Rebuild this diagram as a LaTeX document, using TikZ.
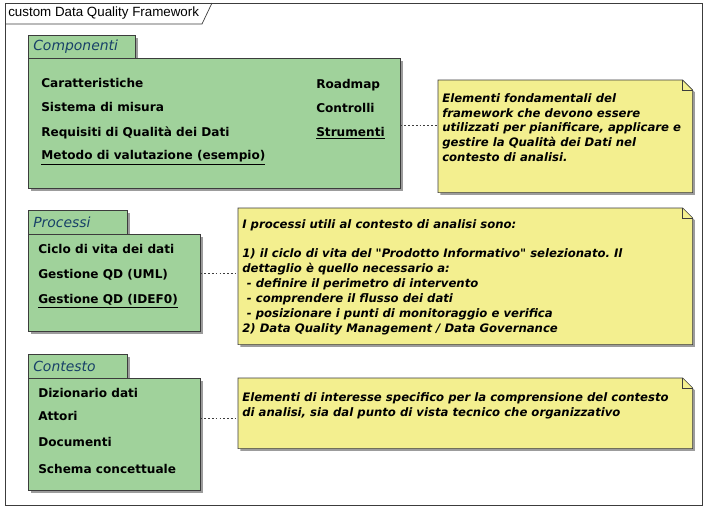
\documentclass[tikz,border=0pt]{standalone}
\usepackage{fontspec}
\setmainfont{DejaVu Sans}
\newfontfamily\titlefont{Liberation Sans}
\newfontfamily\notefont{DejaVu Sans}
\usetikzlibrary{shadows}
\frenchspacing
\definecolor{pkggreen}{RGB}{160,210,155}
\definecolor{noteyellow}{RGB}{243,239,143}
\definecolor{pkgblue}{RGB}{24,64,104}
\definecolor{edgegray}{RGB}{60,60,60}
\tikzset{
  frame/.style={draw=edgegray,line width=0.5pt},
  titletxt/.style={font=\titlefont\fontsize{9.5}{11}\selectfont,anchor=west,inner sep=0pt},
  boxshadow/.style={drop shadow={shadow xshift=1.6pt,shadow yshift=-1.6pt,opacity=.55,fill=black!70}},
  pkgtab/.style={draw=edgegray,fill=pkggreen,anchor=north west,inner sep=0pt,boxshadow},
  pkgbody/.style={draw=edgegray,fill=pkggreen,anchor=north west,inner sep=0pt,boxshadow},
  pkgname/.style={font=\fontsize{9.9}{11}\selectfont\itshape,text=pkgblue,anchor=west,inner sep=0pt},
  item/.style={font=\fontsize{8.6}{10}\selectfont\bfseries,anchor=west,inner sep=0pt},
  noteplace/.style={anchor=north west,inner sep=0pt},
  notebox/.style={draw=edgegray,fill=noteyellow,boxshadow},
  notetext/.style={font=\notefont\fontsize{8.3}{10.6}\selectfont\bfseries\itshape,anchor=north west,inner sep=0pt,align=left},
  notelink/.style={draw=edgegray,dash pattern=on 1.2pt off 1.5pt},
}
\newcommand{\dogear}[1]{%
  \filldraw[notebox] (#1.north west) -- ([xshift=-0.25cm]#1.north east)
    -- ([yshift=-0.25cm]#1.north east) -- (#1.south east) -- (#1.south west) -- cycle;
  \draw[edgegray] ([xshift=-0.25cm]#1.north east) -- ([xshift=-0.25cm,yshift=-0.25cm]#1.north east)
    -- ([yshift=-0.25cm]#1.north east);
}

\begin{document}
\begin{tikzpicture}[x=0.025cm,y=-0.025cm]
  \useasboundingbox (0,0) rectangle (706,508);
  % outer frame
  \fill[white] (0,0) rectangle (706,508);
  \draw[frame] (5,3) rectangle (702,505);
  \draw[frame] (5,24) -- (202,24) -- (212,3);
  \node[titletxt] (title) at (8,13.5) {custom Data Quality Framework};

  % Componenti
  \node[pkgtab,minimum width=2.675cm,minimum height=0.575cm] (comptab) at (28,35) {};
  \node[pkgbody,minimum width=9.3cm,minimum height=3.25cm] (comp) at (28,58) {};
  \node[pkgname] (compname) at (33,46.5) {Componenti};
  \foreach \n/\y/\t in {1/83/Caratteristiche,2/107/Sistema di misura,
      3/133/Requisiti di Qualità dei Dati,4/158/\underline{Metodo di valutazione (esempio)}}
    \node[item] (comp\n) at (41,\y) {\t};
  \foreach \n/\y/\t in {5/85/Roadmap,6/108/Controlli,7/133/\underline{Strumenti}}
    \node[item] (comp\n) at (316,\y) {\t};

  % Processi
  \node[pkgtab,minimum width=2.475cm,minimum height=0.6cm] (proctab) at (28,210) {};
  \node[pkgbody,minimum width=4.3cm,minimum height=2.425cm] (proc) at (28,234) {};
  \node[pkgname] (procname) at (33,222) {Processi};
  \foreach \n/\y/\t in {1/249/Ciclo di vita dei dati,2/275/Gestione QD (UML),
      3/301/\underline{Gestione QD (IDEF0)}}
    \node[item] (proc\n) at (38,\y) {\t};

  % Contesto
  \node[pkgtab,minimum width=2.475cm,minimum height=0.6cm] (conttab) at (28,354) {};
  \node[pkgbody,minimum width=4.3cm,minimum height=2.8cm] (cont) at (28,378) {};
  \node[pkgname] (contname) at (33,366) {Contesto};
  \foreach \n/\y/\t in {1/393/Dizionario dati,2/416/Attori,3/442/Documenti,
      4/469/Schema concettuale}
    \node[item] (cont\n) at (38,\y) {\t};

  % note
  \node[noteplace,minimum width=6.35cm,minimum height=2.8cm] (note1) at (438,80) {};
  \node[noteplace,minimum width=11.35cm,minimum height=3.4cm] (note2) at (238,208) {};
  \node[noteplace,minimum width=11.35cm,minimum height=1.75cm] (note3) at (238,378) {};
  \dogear{note1}
  \dogear{note2}
  \dogear{note3}

  \node[notetext] (note1txt) at (442,93) {Elementi fondamentali del\\
    framework che devono essere\\
    utilizzati per pianificare, applicare e\\
    gestire la Qualità dei Dati nel\\
    contesto di analisi.};
  \node[notetext] (note2txt) at (242,219) {I processi utili al contesto di analisi sono:\\[10.6pt]
    1) il ciclo di vita del "Prodotto Informativo" selezionato. Il\\
    dettaglio è quello necessario a:\\
    \hspace*{0.4em}- definire il perimetro di intervento\\
    \hspace*{0.4em}- comprendere il flusso dei dati\\
    \hspace*{0.4em}- posizionare i punti di monitoraggio e verifica\\
    2) Data Quality Management / Data Governance};
  \node[notetext] (note3txt) at (242,392) {Elementi di interesse specifico per la comprensione del contesto\\
    di analisi, sia dal punto di vista tecnico che organizzativo};

  % collegamenti
  \coordinate (l1) at (comp.east |- 0,125);
  \coordinate (l2) at (proc.east |- 0,273);
  \coordinate (l3) at (cont.east |- 0,418);
  \draw[notelink] (l1) -- (l1 -| note1.west);
  \draw[notelink] (l2) -- (l2 -| note2.west);
  \draw[notelink] (l3) -- (l3 -| note3.west);
\end{tikzpicture}
\end{document}
